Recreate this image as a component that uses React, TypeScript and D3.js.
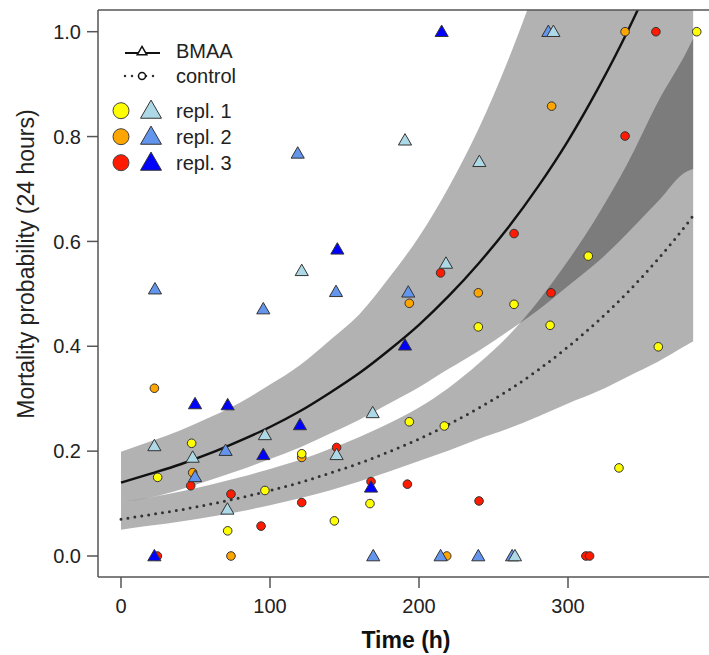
import React from 'react';
import * as d3 from 'd3';

// fitted curves (time in h, probability)
const times = [0, 20, 40, 60, 80, 100, 120, 140, 160, 180, 200, 220, 240, 260, 280, 300, 320, 340, 360, 380, 384];
const bmaaFit = [0.14, 0.157, 0.175, 0.196, 0.22, 0.246, 0.276, 0.311, 0.349, 0.393, 0.441, 0.496, 0.558, 0.627, 0.705, 0.792, 0.891, 1.001, 1.125, 1.265, 1.295];
const bmaaUpper = [0.199, 0.219, 0.240, 0.265, 0.293, 0.327, 0.364, 0.411, 0.461, 0.531, 0.609, 0.704, 0.815, 0.947, 1.1, 1.275, 1.48, 1.71, 1.98, 2.29, 2.36];
const bmaaLower = [0.103, 0.112, 0.127, 0.145, 0.164, 0.185, 0.207, 0.233, 0.26, 0.291, 0.322, 0.357, 0.391, 0.429, 0.469, 0.515, 0.561, 0.616, 0.675, 0.734, 0.738];
const ctrlFit = [0.07, 0.079, 0.088, 0.099, 0.111, 0.125, 0.14, 0.158, 0.177, 0.199, 0.223, 0.251, 0.282, 0.316, 0.355, 0.399, 0.448, 0.503, 0.565, 0.634, 0.649];
const ctrlUpper = [0.103, 0.112, 0.123, 0.136, 0.15, 0.166, 0.183, 0.204, 0.227, 0.253, 0.283, 0.321, 0.367, 0.42, 0.486, 0.563, 0.65, 0.749, 0.864, 0.964, 0.987];
const ctrlLower = [0.05, 0.058, 0.066, 0.075, 0.085, 0.097, 0.11, 0.125, 0.142, 0.161, 0.181, 0.201, 0.223, 0.243, 0.266, 0.291, 0.314, 0.342, 0.37, 0.403, 0.409];

// observations [time, probability]
const ctrlRepl1: [number, number][] = [[386.4, 1.0], [313.6, 0.572], [263.8, 0.48], [239.8, 0.437], [288, 0.44], [360.6, 0.399], [193.5, 0.256], [217, 0.248], [47.4, 0.215], [121.3, 0.195], [24.6, 0.15], [96.6, 0.125], [167.1, 0.1], [71.6, 0.048], [143.2, 0.067], [334.2, 0.168]];
const ctrlRepl2: [number, number][] = [[338.3, 1.0], [289, 0.858], [193.5, 0.482], [239.8, 0.502], [22.4, 0.32], [121.3, 0.188], [48.1, 0.159], [73.8, 0.0], [218.6, 0.0]];
const ctrlRepl3: [number, number][] = [[359, 1.0], [338.3, 0.801], [263.8, 0.615], [214.5, 0.54], [288.6, 0.502], [144.7, 0.207], [167.8, 0.142], [192.2, 0.137], [46.8, 0.134], [73.8, 0.118], [121.3, 0.102], [94, 0.057], [240.3, 0.105], [24.4, 0.0], [312, 0.0], [314.5, 0.0]];
const bmaaRepl1: [number, number][] = [[290.2, 1.0], [190.6, 0.793], [240.5, 0.752], [121.3, 0.544], [218.1, 0.558], [168.9, 0.273], [96.6, 0.231], [22.4, 0.21], [144.7, 0.193], [48.1, 0.188], [71.4, 0.089], [264.4, 0.0]];
const bmaaRepl2: [number, number][] = [[286.8, 1.0], [118.6, 0.768], [22.8, 0.509], [144.3, 0.504], [192.8, 0.503], [95.5, 0.471], [70.2, 0.201], [49.7, 0.151], [169.3, 0.0], [214.5, 0.0], [239.8, 0.0], [262.5, 0.0]];
const bmaaRepl3: [number, number][] = [[215.2, 1.0], [145.2, 0.585], [190.6, 0.402], [49.7, 0.29], [71.6, 0.288], [120.1, 0.25], [95.5, 0.193], [167.8, 0.131], [22.4, 0.0]];

const xTicks = [0, 100, 200, 300];
const yTicks = [0, 0.2, 0.4, 0.6, 0.8, 1.0];
const circleColors = ['#ffff00', '#ffa500', '#ff1a00'];
const triColors = ['#add8e6', '#6495ed', '#0000ff'];
const replLabels = ['repl. 1', 'repl. 2', 'repl. 3'];

const W = 709;
const H = 655;
const left = 98, top = 10, bottom = 577;
const font = '"Liberation Sans", Arial, sans-serif';

const x = d3.scaleLinear().domain([0, 300]).range([121, 568]);
const y = d3.scaleLinear().domain([0, 1]).range([556, 31.7]);

const band = (lo: number[], hi: number[]) =>
  d3.area<number>()
    .x((_, i) => x(times[i]))
    .y0((_, i) => y(lo[i]))
    .y1((_, i) => y(hi[i]))
    .curve(d3.curveMonotoneX)(times) || '';

const fitLine = (v: number[]) =>
  d3.line<number>()
    .x((_, i) => x(times[i]))
    .y((_, i) => y(v[i]))
    .curve(d3.curveMonotoneX)(times) || '';

const tri = (size: number) => d3.symbol(d3.symbolTriangle, size)() || '';

export default function App() {
  const triSmall = tri(75);
  const triLegend = tri(190);
  const triHollow = tri(40);

  return (
    <svg width={W} height={H} style={{ position: 'absolute', left: 0, top: 0, background: '#fff' }} fontFamily={font}>
      <defs>
        <clipPath id="plot">
          <rect x={left} y={top} width={W - left} height={bottom - top} />
        </clipPath>
      </defs>

      <g clipPath="url(#plot)">
        <path d={band(bmaaLower, bmaaUpper)} fill="#000" fillOpacity={0.3} />
        <path d={band(ctrlLower, ctrlUpper)} fill="#000" fillOpacity={0.3} />
        <path d={fitLine(bmaaFit)} fill="none" stroke="#111" strokeWidth={2.4} />
        <path d={fitLine(ctrlFit)} fill="none" stroke="#333" strokeWidth={3} strokeDasharray="0 7" strokeLinecap="round" />

        {[ctrlRepl3, ctrlRepl2, ctrlRepl1].map((pts, k) => (
          <g key={'c' + k}>
            {pts.map((d, i) => (
              <circle key={i} cx={x(d[0])} cy={y(d[1])} r={4.3} fill={circleColors[2 - k]} stroke="#333" strokeWidth={1} />
            ))}
          </g>
        ))}
        {[bmaaRepl3, bmaaRepl2, bmaaRepl1].map((pts, k) => (
          <g key={'t' + k}>
            {pts.map((d, i) => (
              <path key={i} d={triSmall} transform={`translate(${x(d[0])},${y(d[1]) + 1})`} fill={triColors[2 - k]} stroke="#333" strokeWidth={1} />
            ))}
          </g>
        ))}
      </g>

      {/* frame */}
      <g stroke="#555" strokeWidth={1.5} fill="none">
        <line x1={left} x2={W} y1={top} y2={top} />
        <line x1={left} x2={left} y1={top} y2={bottom} />
        <line x1={left} x2={W} y1={bottom} y2={bottom} />
      </g>

      {/* y axis */}
      {yTicks.map(t => (
        <g key={t} transform={`translate(0,${y(t)})`}>
          <line x1={87} x2={left} stroke="#555" strokeWidth={1.5} />
          <text x={81} dy="0.36em" textAnchor="end" fontSize={20} fill="#222">{t.toFixed(1)}</text>
        </g>
      ))}
      <text transform={`translate(34,264) rotate(-90)`} textAnchor="middle" fontSize={23} fill="#222">
        Mortality probability (24 hours)
      </text>

      {/* x axis */}
      {xTicks.map(t => (
        <g key={t} transform={`translate(${x(t)},0)`}>
          <line y1={bottom} y2={588} stroke="#555" strokeWidth={1.5} />
          <text y={613} textAnchor="middle" fontSize={20} fill="#222">{t}</text>
        </g>
      ))}
      <text x={406} y={648} textAnchor="middle" fontSize={23} fontWeight="bold" fill="#111">Time (h)</text>

      {/* legend */}
      <g>
        <line x1={125} x2={160} y1={53} y2={53} stroke="#111" strokeWidth={2} />
        <path d={triHollow} transform="translate(142,52)" fill="#fff" stroke="#111" strokeWidth={1.5} />
        <text x={176} y={58} fontSize={20} fill="#222">BMAA</text>
        <line x1={125} x2={160} y1={76} y2={76} stroke="#333" strokeWidth={2.5} strokeDasharray="0 7" strokeLinecap="round" />
        <circle cx={142} cy={76} r={3.5} fill="#fff" stroke="#111" strokeWidth={1.5} />
        <text x={176} y={83} fontSize={20} fill="#222">control</text>
        {replLabels.map((lab, i) => {
          const cy = 110.7 + i * 26;
          return (
            <g key={lab}>
              <circle cx={121} cy={cy} r={8} fill={circleColors[i]} stroke="#444" strokeWidth={1} />
              <path d={triLegend} transform={`translate(151,${cy + 1.5})`} fill={triColors[i]} stroke="#333" strokeWidth={1} />
              <text x={176} y={cy + 7} fontSize={20} fill="#222">{lab}</text>
            </g>
          );
        })}
      </g>
    </svg>
  );
}
